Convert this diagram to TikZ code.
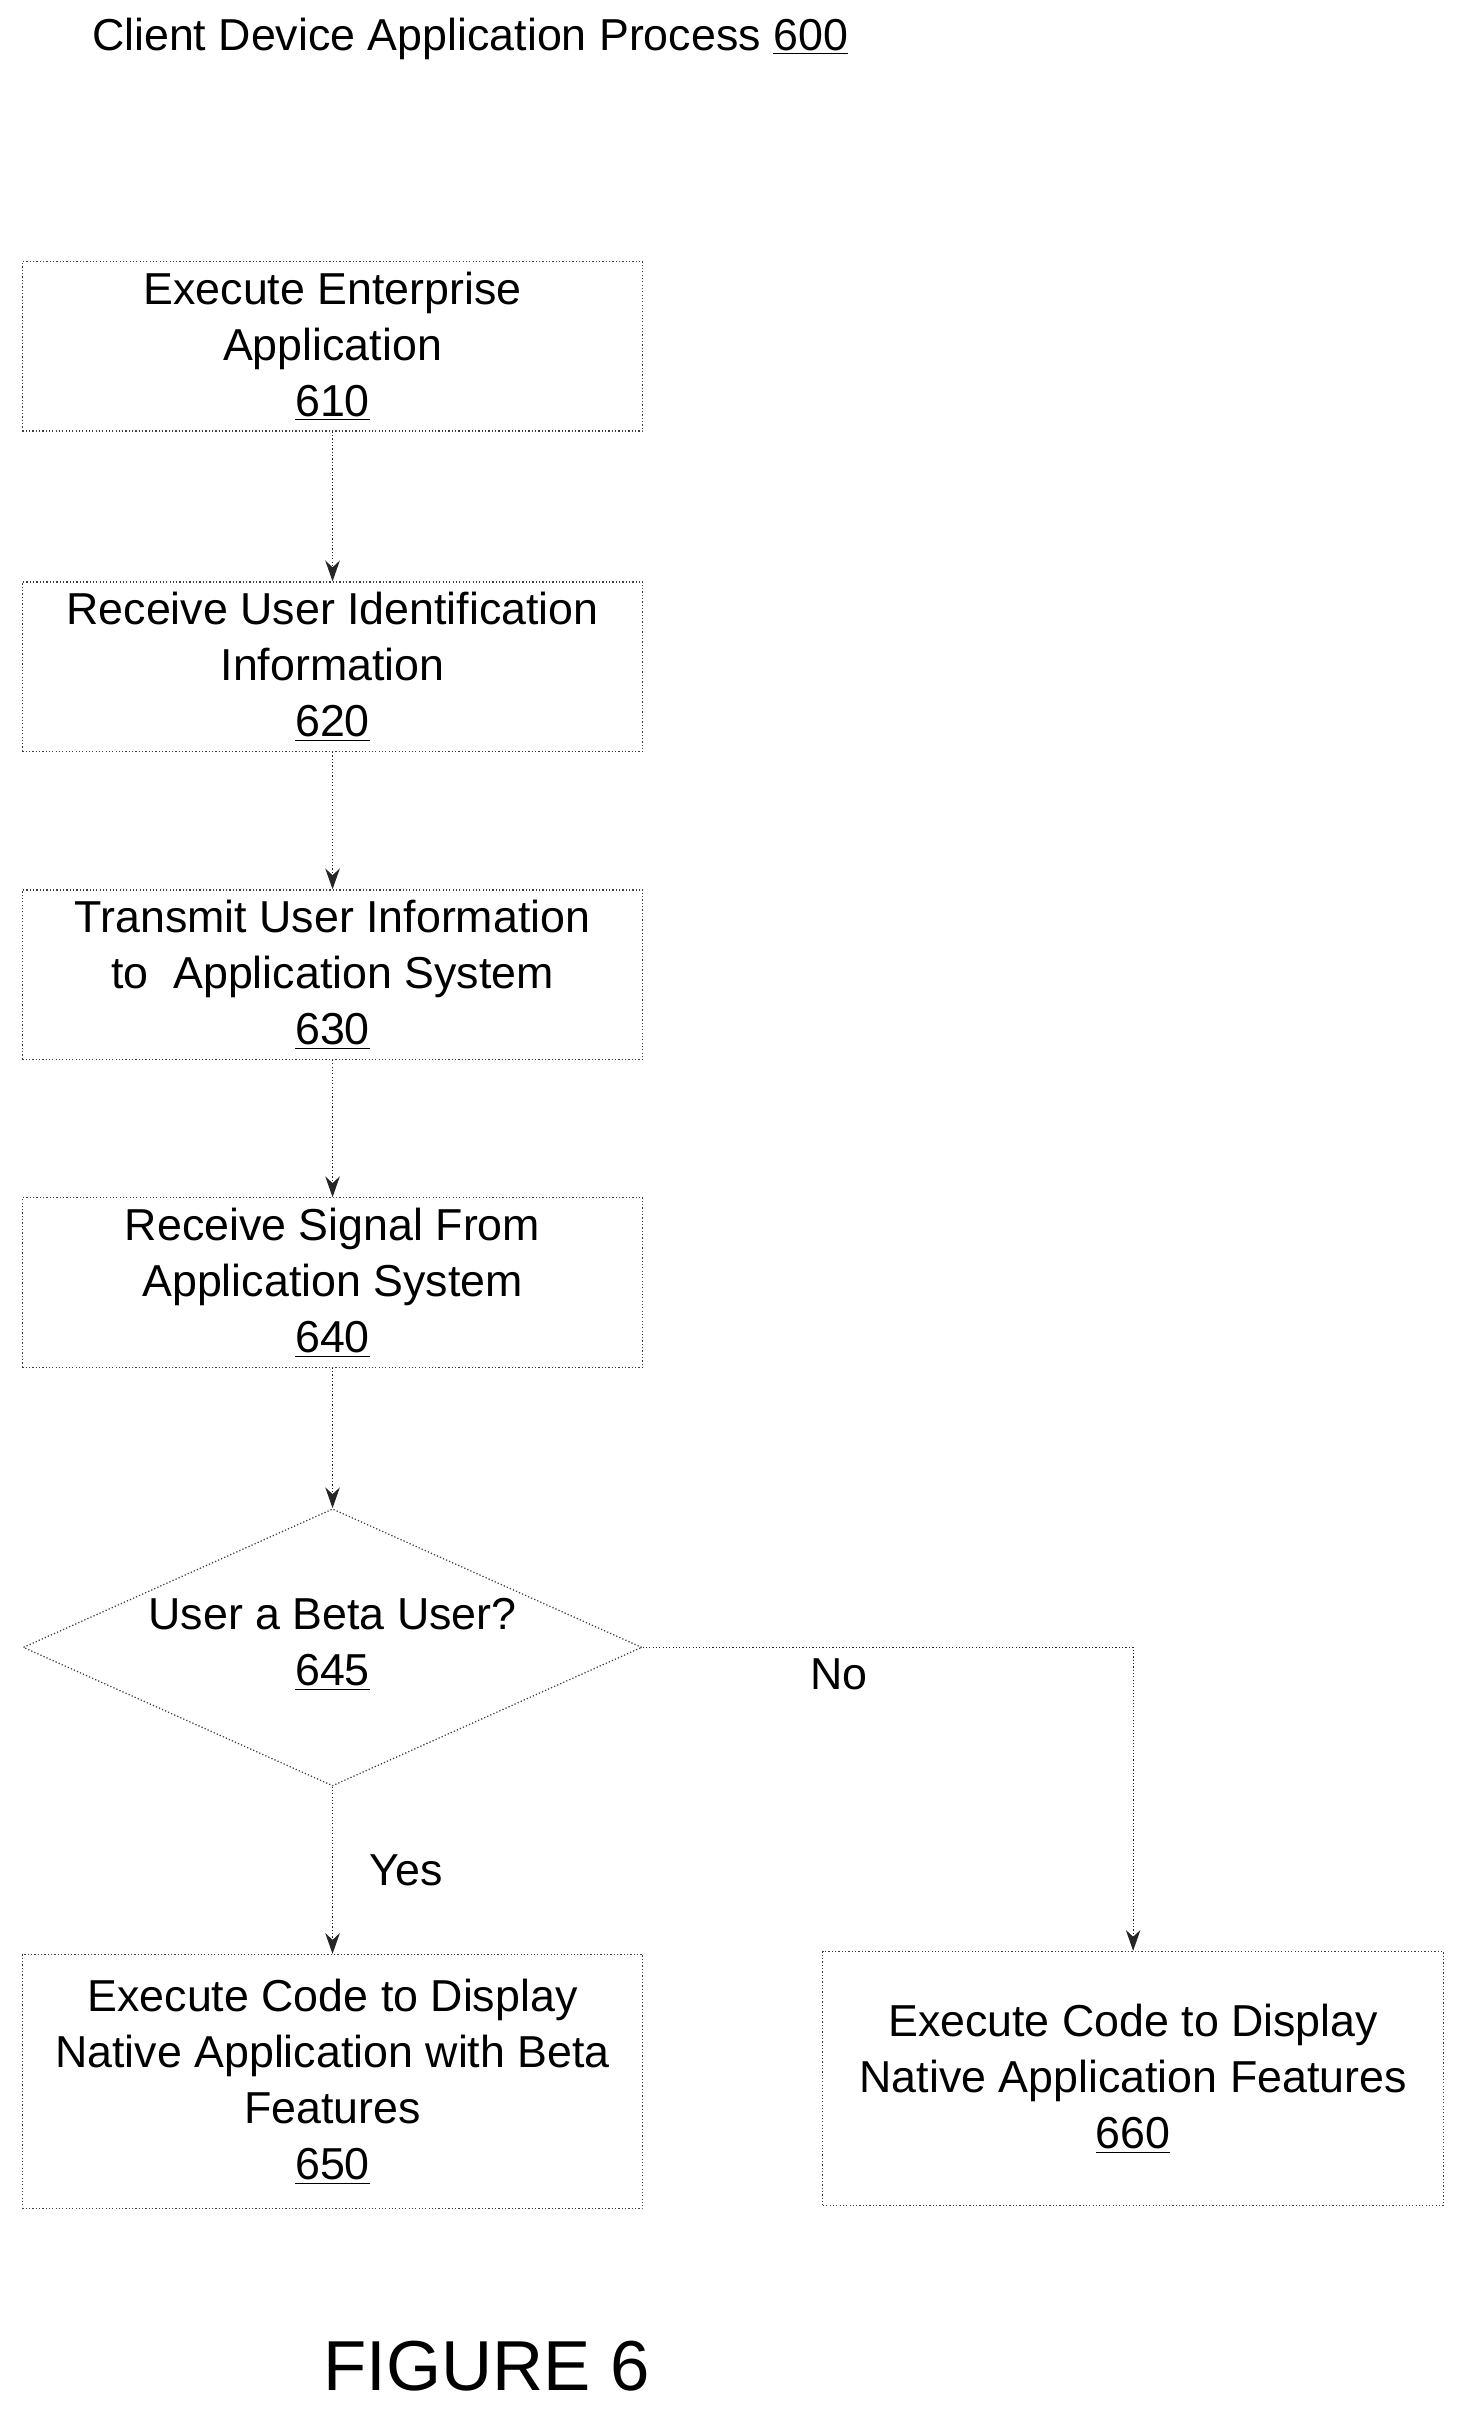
\documentclass[tikz,border=0pt]{standalone}
\usepackage{fontspec}
\setmainfont{Liberation Sans}
\usetikzlibrary{arrows,arrows.meta,positioning,shapes.geometric}
\tikzset{
    >={Stealth[length=10pt,width=7pt]},
    procBox/.style={
           rectangle,
           draw=black!75, densely dotted, semithick,
           align=center,
           font=\fontsize{21.5}{27}\selectfont,
           minimum width=10.48cm,
           minimum height=2.86cm},
    decide/.style={
           diamond,
           draw=black!75, densely dotted, semithick,
           minimum width=10.45cm,
           minimum height=4.68cm,
           inner sep=0pt},
    pil/.style={
           ->,
           densely dotted, semithick,
           draw=black!85}
}
\begin{document}
\begin{tikzpicture}[x=0.026cm, y=-0.026cm]
	\useasboundingbox (0,0) rectangle (960,1579);
	\node[anchor=west, font=\fontsize{21.5}{27}\selectfont] (Title) at (55,25) {Client Device Application Process \underline{600}};
	\node[procBox] (Execute) at (216,225) {Execute Enterprise\\Application\\\underline{610}};
	\node[procBox] (ReceiveUser) at (216,433) {Receive User Identification\\Information\\\underline{620}};
	\node[procBox] (Transmit) at (216,633) {Transmit User Information\\to\ \ Application System\\\underline{630}};
	\node[procBox] (Signal) at (216,833) {Receive Signal From\\Application System\\\underline{640}};
	\node[decide] (Beta) at (216,1070) {};
	\node[align=center, font=\fontsize{21.5}{27}\selectfont] (BetaText) at (216,1068) {User a Beta User?\\\underline{645}};
	\node[procBox, minimum height=4.29cm] (BetaFeat) at (216,1352) {Execute Code to Display\\Native Application with Beta\\Features\\\underline{650}};
	\node[procBox, minimum height=4.29cm] (NativeFeat) at (736,1350) {Execute Code to Display\\Native Application Features\\\underline{660}};
	\node[font=\fontsize{34}{40}\selectfont] (Fig) at (316,1537) {FIGURE 6};
	\draw[pil] (Execute) -- (ReceiveUser);
	\draw[pil] (ReceiveUser) -- (Transmit);
	\draw[pil] (Transmit) -- (Signal);
	\draw[pil] (Signal) -- (Beta);
	\draw[pil] (Beta) -- node[right=0.5cm, font=\fontsize{21.5}{27}\selectfont]{Yes} (BetaFeat);
	\draw[pil] (Beta.east) -| node[pos=0.2, below=2pt, font=\fontsize{21.5}{27}\selectfont]{No} (NativeFeat.north);
\end{tikzpicture}
\end{document}
